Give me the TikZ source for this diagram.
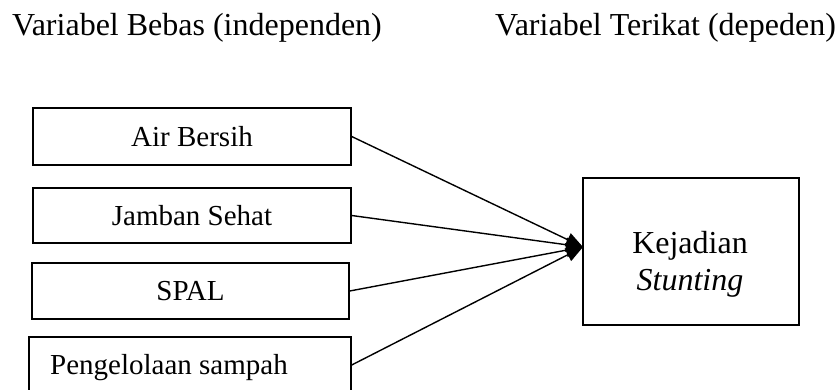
\documentclass[tikz,border=0pt]{standalone}
\usepackage{fontspec}
\setmainfont{Liberation Serif}
\usetikzlibrary{arrows.meta}
\begin{document}
\begin{tikzpicture}[x=1pt,y=-1pt,
  box/.style={draw=black, line width=1.4pt, rectangle, inner sep=0pt},
  small/.style={font=\fontsize{29}{34}\selectfont},
  big/.style={font=\fontsize{32}{37}\selectfont},
  conn/.style={line width=1.4pt, -{Triangle[length=17pt,width=14pt]}}]
\useasboundingbox (0,0) rectangle (840,389);
\clip (0,0) rectangle (840,389);
% titles
\node[big, anchor=base west, inner sep=0pt] (t1) at (12,35) {Variabel Bebas (independen)};
\node[big, anchor=base west, inner sep=0pt] (t2) at (495,35) {Variabel Terikat (depeden)};
% left boxes
\node[box, small, minimum width=318pt, minimum height=57pt] (b1) at (192,136.5) {Air Bersih};
\node[box, small, minimum width=318pt, minimum height=55pt] (b2) at (192,215.5) {Jamban Sehat};
\node[box, small, minimum width=317pt, minimum height=56pt] (b3) at (190.5,291) {SPAL};
\node[box, minimum width=322pt, minimum height=56pt] (b4) at (190,365) {};
\node[small, anchor=base west, inner sep=0pt] (b4t) at (50,374) {Pengelolaan sampah};
% right box
\node[box, minimum width=216pt, minimum height=147pt] (k) at (691,251.5) {};
\node[big, align=center, inner sep=0pt] (kt) at (690,264) {Kejadian\\\textit{Stunting}};
\coordinate (tip) at (583,247);
% connectors
\draw[conn] (b1.east) -- (tip);
\draw[conn] (b2.east) -- (tip);
\draw[conn] (b3.east) -- (tip);
\draw[conn] (b4.east) -- (tip);
\end{tikzpicture}
\end{document}
